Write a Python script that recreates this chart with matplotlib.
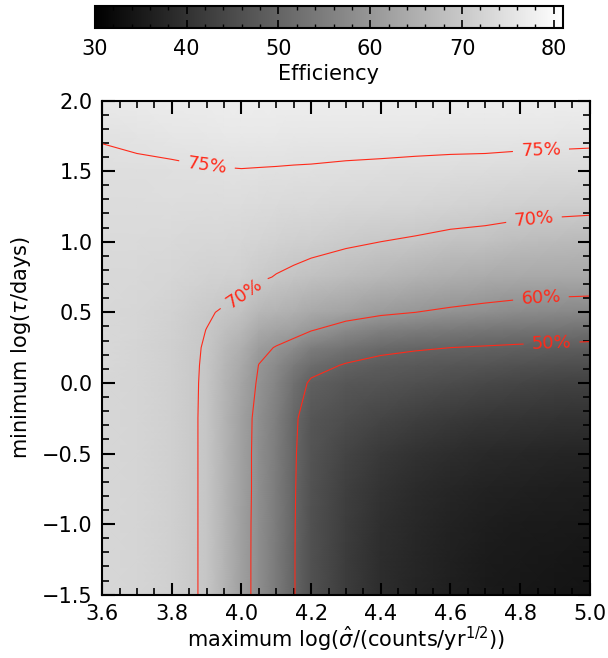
import matplotlib
matplotlib.use("Agg")
import matplotlib.pyplot as plt
import numpy as np
from matplotlib.ticker import MultipleLocator

# grid: columns = max log(sigma), rows = min log(tau)
sigma_max = [3.6, 3.7, 3.8, 3.9, 3.95, 4.0, 4.05, 4.1, 4.15, 4.2,
             4.3, 4.4, 4.5, 4.6, 4.7, 4.8, 4.9, 5.0]
tau_min = [-1.5, -1.25, -1.0, -0.75, -0.5, -0.25, 0.0, 0.125, 0.25, 0.375,
           0.5, 0.75, 1.0, 1.25, 1.5, 1.75, 2.0]

# efficiency (%) along each tau row
eff_m150 = [73.0, 72.5, 71.5, 69.5, 66.0, 62.0, 58.3, 54.5, 50.3, 46.2, 42.0, 39.0, 37.5, 36.2, 35.3, 34.7, 34.3, 34.0]
eff_m125 = [73.0, 72.5, 71.5, 69.5, 66.0, 62.0, 58.3, 54.5, 50.3, 46.2, 42.0, 39.1, 37.6, 36.4, 35.5, 35.0, 34.6, 34.3]
eff_m100 = [73.0, 72.5, 71.5, 69.5, 66.0, 62.0, 58.35, 54.6, 50.35, 46.3, 42.2, 39.5, 38.0, 36.8, 36.0, 35.5, 35.2, 35.0]
eff_m075 = [73.0, 72.5, 71.5, 69.5, 66.0, 62.1, 58.45, 54.7, 50.45, 46.5, 42.7, 40.2, 38.7, 37.6, 36.9, 36.4, 36.1, 35.9]
eff_m050 = [73.0, 72.5, 71.5, 69.5, 66.0, 62.1, 58.45, 54.9, 50.6, 46.8, 43.7, 41.5, 40.1, 39.0, 38.3, 37.8, 37.5, 37.3]
eff_m025 = [73.0, 72.5, 71.5, 69.5, 66.0, 62.2, 58.6, 55.3, 50.9, 47.3, 45.5, 43.8, 42.6, 41.6, 40.9, 40.4, 40.1, 39.9]
eff_p000 = [73.0, 72.5, 71.5, 69.55, 66.2, 63.0, 59.4, 56.3, 52.4, 49.3, 47.5, 46.8, 46.0, 45.2, 44.5, 43.8, 43.3, 43.0]
eff_p012 = [73.05, 72.55, 71.55, 69.6, 66.5, 63.8, 59.9, 57.6, 54.5, 51.8, 49.6, 48.5, 47.8, 47.3, 46.8, 46.3, 45.9, 45.6]
eff_p025 = [73.1, 72.6, 71.6, 69.7, 67.2, 65.0, 61.4, 59.7, 57.8, 55.0, 53.0, 51.2, 50.5, 50.0, 49.6, 49.2, 48.9, 48.6]
eff_p038 = [73.15, 72.7, 71.8, 69.95, 68.3, 66.8, 64.0, 62.8, 62.0, 60.3, 57.5, 55.5, 54.8, 54.2, 53.7, 53.3, 53.0, 52.7]
eff_p050 = [73.2, 72.8, 72.0, 70.4, 69.6, 68.6, 66.5, 65.8, 65.0, 63.8, 62.5, 61.0, 60.0, 59.2, 58.5, 57.8, 57.3, 57.0]
eff_p075 = [73.4, 73.2, 72.8, 72.0, 71.8, 71.5, 70.6, 69.8, 69.2, 68.5, 67.5, 66.5, 65.5, 64.8, 64.2, 63.8, 63.6, 63.5]
eff_p100 = [73.6, 73.6, 73.4, 73.0, 72.9, 72.8, 72.4, 72.0, 71.6, 71.3, 70.6, 70.0, 69.5, 68.8, 68.5, 67.8, 67.3, 67.0]
eff_p125 = [73.9, 74.0, 74.1, 74.0, 74.0, 74.0, 73.8, 73.6, 73.4, 73.3, 73.0, 72.8, 72.5, 72.2, 71.8, 71.4, 71.2, 71.0]
eff_p150 = [74.3, 74.4, 74.5, 74.8, 74.85, 74.9, 74.85, 74.8, 74.75, 74.7, 74.5, 74.4, 74.2, 74.1, 74.0, 73.8, 73.6, 73.5]
eff_p175 = [75.2, 75.6, 76.0, 76.2, 76.25, 76.3, 76.3, 76.3, 76.2, 76.2, 76.2, 76.1, 76.1, 76.0, 76.0, 75.9, 75.9, 75.8]
eff_p200 = [76.5, 76.8, 77.0, 77.2, 77.25, 77.3, 77.3, 77.3, 77.3, 77.3, 77.3, 77.3, 77.3, 77.3, 77.3, 77.3, 77.3, 77.3]

levels = [50, 60, 70, 75]
level_labels = ["50%", "60%", "70%", "75%"]
cbar_ticks = [30, 40, 50, 60, 70, 80]

RED = "#ff2a1a"

plt.rcParams.update({
    "font.family": "DejaVu Sans",
    "font.size": 15,
    "axes.linewidth": 1.5,
})

eff = np.array([eff_m150, eff_m125, eff_m100, eff_m075, eff_m050, eff_m025, eff_p000,
                eff_p012, eff_p025, eff_p038, eff_p050, eff_p075, eff_p100, eff_p125,
                eff_p150, eff_p175, eff_p200])
X, Y = np.meshgrid(sigma_max, tau_min)

fig = plt.figure(figsize=(6.08, 6.58), dpi=100)
ax = fig.add_axes([0.168, 0.0962, 0.802, 0.751])

mesh = ax.pcolormesh(X, Y, eff, cmap="gray", vmin=30, vmax=81, shading="gouraud")
cs = ax.contour(X, Y, eff, levels=levels, colors=RED, linewidths=0.8)
# label spots picked to sit where the original has them
ax.clabel(cs, fmt=dict(zip(levels, level_labels)), fontsize=13, inline=True,
          inline_spacing=8,
          manual=[(3.9, 1.52), (4.86, 1.64), (4.0, 0.66), (4.84, 1.15),
                  (4.86, 0.59), (4.89, 0.30)])

ax.set_xlim(3.6, 5.0)
ax.set_ylim(-1.5, 2.0)
ax.xaxis.set_major_locator(MultipleLocator(0.2))
ax.xaxis.set_minor_locator(MultipleLocator(0.05))
ax.yaxis.set_major_locator(MultipleLocator(0.5))
ax.yaxis.set_minor_locator(MultipleLocator(0.1))
ax.tick_params(which="both", direction="in", top=True, right=True, labelsize=15)
ax.tick_params(which="major", length=9, width=1.5, pad=7)
ax.tick_params(which="minor", length=5, width=1.2)
ax.set_xlabel(r"maximum log($\hat{\sigma}$/(counts/yr$^{1/2}$))", fontsize=15, labelpad=0)
ax.set_ylabel(r"minimum log($\tau$/days)", fontsize=15, labelpad=6)

cax = fig.add_axes([0.156, 0.957, 0.770, 0.0343])
cb = fig.colorbar(mesh, cax=cax, orientation="horizontal")
cb.set_ticks(cbar_ticks)
cax.xaxis.set_minor_locator(MultipleLocator(2))
cax.tick_params(which="both", direction="in", top=True, bottom=True, labelsize=15)
cax.tick_params(which="major", length=6, width=1.2, pad=8)
cax.tick_params(which="minor", length=3, width=1.0)
cb.outline.set_linewidth(1.5)
cb.set_label("Efficiency", fontsize=15, labelpad=3)

fig.savefig("out.png", dpi=100)
